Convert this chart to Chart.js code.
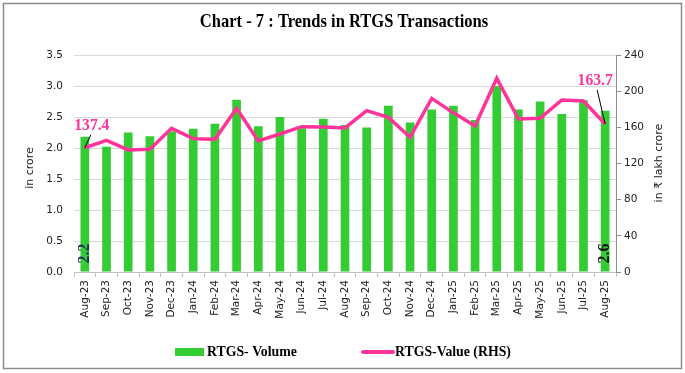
<!DOCTYPE html>
<html>
<head>
<meta charset="utf-8">
<script src="https://cdn.jsdelivr.net/npm/chart.js@4.4.0/dist/chart.umd.min.js"></script>
<style>
  body { margin: 0; background: #fff; }
  #wrap { width: 685px; height: 373px; }
</style>
</head>
<body>
<div id="wrap"><canvas id="rtgs" width="685" height="373"></canvas></div>
<script>
// months on the x axis
const months = ['Aug-23','Sep-23','Oct-23','Nov-23','Dec-23','Jan-24','Feb-24','Mar-24','Apr-24','May-24',
  'Jun-24','Jul-24','Aug-24','Sep-24','Oct-24','Nov-24','Dec-24','Jan-25','Feb-25','Mar-25',
  'Apr-25','May-25','Jun-25','Jul-25','Aug-25'];
// RTGS volume, in crore (LHS)
const volume = [2.18, 2.02, 2.25, 2.19, 2.27, 2.31, 2.39, 2.78, 2.35, 2.50,
  2.32, 2.47, 2.37, 2.33, 2.68, 2.41, 2.62, 2.68, 2.45, 3.00,
  2.62, 2.75, 2.55, 2.77, 2.60];
// RTGS value, in lakh crore (RHS)
const value = [137.4, 145.6, 135.0, 135.7, 158.9, 147.5, 146.7, 181.0, 144.9, 152.6,
  160.7, 160.4, 159.3, 178.4, 171.0, 149.0, 192.0, 176.0, 161.5, 214.2,
  169.2, 170.0, 190.2, 189.1, 163.7];
const leftTicks = [0, 0.5, 1.0, 1.5, 2.0, 2.5, 3.0, 3.5];
const rightTicks = [0, 40, 80, 120, 160, 200, 240];

const GREEN = '#33CC33';
const PINK = '#FF3399';
const SERIF = '"Liberation Serif", "DejaVu Serif", serif';
const SANS = '"DejaVu Sans", Verdana, sans-serif';

// narrow serif text, to get close to the original's condensed face
function narrowText(ctx, text, x, y, sx) {
  ctx.save();
  ctx.translate(x, y);
  ctx.scale(sx, 1);
  ctx.fillText(text, 0, 0);
  ctx.restore();
}

// title, axis titles, legend, data labels and border
const extras = {
  id: 'extras',
  afterDraw(chart) {
    const ctx = chart.ctx;
    ctx.save();

    // border
    ctx.strokeStyle = '#8c8c8c';
    ctx.lineWidth = 1.5;
    ctx.strokeRect(3.5, 3.5, 678, 365);

    // title
    ctx.fillStyle = '#000';
    ctx.font = 'bold 19px ' + SERIF;
    ctx.textAlign = 'center';
    ctx.textBaseline = 'alphabetic';
    narrowText(ctx, 'Chart - 7 : Trends in RTGS Transactions', 344, 27, 0.87);

    // axis titles
    ctx.font = '11px ' + SANS;
    ctx.fillStyle = '#222';
    ctx.textBaseline = 'middle';
    ctx.save();
    ctx.translate(30, 168);
    ctx.rotate(-Math.PI / 2);
    ctx.fillText('in crore', 0, 0);
    ctx.restore();
    ctx.save();
    ctx.translate(659, 163);
    ctx.rotate(-Math.PI / 2);
    ctx.fillText('in \u20B9 lakh crore', 0, 0);
    ctx.restore();

    // value labels on line (first and last)
    const lineMeta = chart.getDatasetMeta(1);
    const n = value.length;
    const p0 = lineMeta.data[0];
    const pn = lineMeta.data[n - 1];
    ctx.strokeStyle = '#000';
    ctx.lineWidth = 1;
    ctx.beginPath();
    ctx.moveTo(p0.x, p0.y);
    ctx.lineTo(p0.x + 6, p0.y - 13);
    ctx.moveTo(pn.x, pn.y);
    ctx.lineTo(pn.x - 8, pn.y - 34);
    ctx.stroke();
    ctx.font = 'bold 17px ' + SERIF;
    ctx.fillStyle = PINK;
    ctx.textAlign = 'center';
    ctx.textBaseline = 'alphabetic';
    narrowText(ctx, value[0].toFixed(1), p0.x + 7, p0.y - 18, 0.92);
    narrowText(ctx, value[n - 1].toFixed(1), pn.x - 10, pn.y - 39, 0.92);

    // volume labels on bars (first and last), rotated
    const barMeta = chart.getDatasetMeta(0);
    const b0 = barMeta.data[0];
    const bn = barMeta.data[n - 1];
    ctx.font = 'bold 16px ' + SERIF;
    ctx.textAlign = 'left';
    ctx.textBaseline = 'middle';
    [[b0, volume[0], '#1F2D5A'], [bn, volume[n - 1], '#111']].forEach(([b, v, c]) => {
      ctx.save();
      ctx.translate(b.x, b.base - 8);
      ctx.rotate(-Math.PI / 2);
      ctx.fillStyle = c;
      ctx.fillText(v.toFixed(1), 0, 0);
      ctx.restore();
    });

    // legend
    const ly = 352;
    ctx.fillStyle = GREEN;
    ctx.fillRect(175, ly - 4, 29, 8);
    ctx.strokeStyle = PINK;
    ctx.lineWidth = 4;
    ctx.lineCap = 'round';
    ctx.beginPath();
    ctx.moveTo(363, ly);
    ctx.lineTo(393, ly);
    ctx.stroke();
    ctx.font = 'bold 15px ' + SERIF;
    ctx.fillStyle = '#000';
    ctx.textAlign = 'left';
    ctx.textBaseline = 'middle';
    narrowText(ctx, chart.data.datasets[0].label, 207, ly, 0.92);
    narrowText(ctx, chart.data.datasets[1].label, 395, ly, 0.92);

    ctx.restore();
  }
};

new Chart(document.getElementById('rtgs').getContext('2d'), {
  data: {
    labels: months,
    datasets: [
      { type: 'bar', label: 'RTGS- Volume', data: volume, backgroundColor: GREEN,
        yAxisID: 'y', order: 1, categoryPercentage: 1, barPercentage: 0.4 },
      { type: 'line', label: 'RTGS-Value (RHS)', data: value, borderColor: PINK, backgroundColor: PINK,
        borderWidth: 3.5, pointRadius: 0, tension: 0, yAxisID: 'y1', order: 0 }
    ]
  },
  options: {
    responsive: false,
    animation: false,
    layout: { padding: { top: 55, bottom: 0, left: 0, right: 0 } },
    plugins: { legend: { display: false }, title: { display: false }, tooltip: { enabled: false } },
    scales: {
      x: {
        grid: { offset: true, drawOnChartArea: false, drawTicks: true, tickLength: 5, color: '#bfbfbf' },
        border: { color: '#bfbfbf' },
        ticks: { minRotation: 90, maxRotation: 90, autoSkip: false, padding: 3,
          color: '#222', font: { family: SANS, size: 10.5 } },
        afterFit: s => { s.height = 101; }
      },
      y: {
        position: 'left', min: 0, max: 3.5,
        grid: { color: '#d9d9d9', drawTicks: false },
        border: { display: false },
        afterBuildTicks: s => { s.ticks = leftTicks.map(v => ({ value: v })); },
        ticks: { padding: 11, color: '#222', font: { family: SANS, size: 10.5 },
          callback: v => v.toFixed(1) },
        afterFit: s => { s.width = 74; }
      },
      y1: {
        position: 'right', min: 0, max: 240,
        grid: { drawOnChartArea: false, color: '#8c8c8c', tickLength: 5 },
        border: { color: '#8c8c8c' },
        afterBuildTicks: s => { s.ticks = rightTicks.map(v => ({ value: v })); },
        ticks: { padding: 3, color: '#222', font: { family: SANS, size: 10.5 } },
        afterFit: s => { s.width = 69; }
      }
    }
  },
  plugins: [extras]
});
</script>
</body>
</html>
